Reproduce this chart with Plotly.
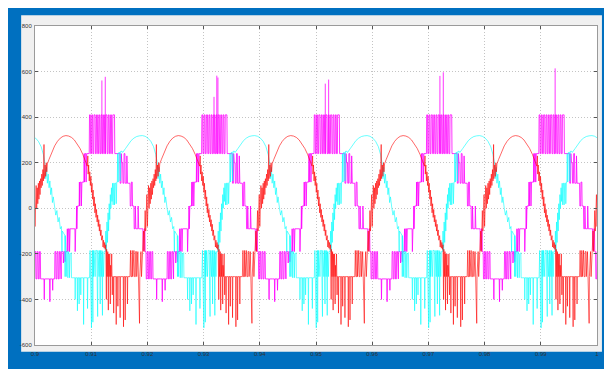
import plotly.graph_objects as go

# ---------------- data ----------------
# positive-peak time (s) of each phase in every 20 ms cycle
RED_PEAKS = [0.9055, 0.9255, 0.9455, 0.9655, 0.9855, 1.0055]
MAG_PEAKS = [0.8923, 0.9123, 0.9323, 0.9523, 0.9723, 0.9923]
CYAN_PEAKS = [0.8991, 0.9191, 0.9391, 0.9591, 0.9791, 0.9991]

# one cycle of each phase: (time from the phase peak in ms, value)
RED_CYCLE = [
    (-10.0, -300), (-9.8, -300), (-9.75, -520), (-9.7, -300), (-9.5, -300), (-9.45, -490), (-9.4, -300),
    (-9.1, -300), (-9.05, -420), (-9.0, -300), (-8.6, -300),
    (-8.5, -185), (-8.4, -300), (-8.25, -300), (-8.2, -185), (-8.1, -300), (-7.9, -185), (-7.8, -300),
    (-7.65, -300), (-7.6, -190), (-7.45, -190), (-7.4, -300), (-7.2, -190), (-7.05, -300), (-6.9, -505),
    (-6.85, -300), (-6.65, -190), (-6.55, -300), (-6.35, -190),
    (-6.2, -100), (-6.1, -190), (-6.0, -90), (-5.9, -10), (-5.8, -100), (-5.7, 0), (-5.6, 60), (-5.5, -80),
    (-5.4, 20), (-5.3, 100), (-5.2, 0), (-5.1, 90), (-5.0, 20), (-4.9, 110), (-4.8, 40), (-4.7, 120),
    (-4.6, 60), (-4.5, 130), (-4.4, 90), (-4.3, 150), (-4.2, 100), (-4.1, 170), (-4.0, 120), (-3.9, 280),
    (-3.85, 130), (-3.7, 190), (-3.6, 140), (-3.5, 200), (-3.4, 160), (-3.3, 195),
    (-3.0, 215), (-2.5, 248), (-2.0, 274), (-1.5, 294), (-1.0, 308), (-0.5, 316), (0.0, 319), (0.5, 317),
    (1.0, 311), (1.5, 300), (2.0, 284), (2.5, 263), (3.0, 237), (3.5, 205), (3.8, 185),
    (3.9, 230), (3.95, 150), (4.05, 190), (4.15, 120), (4.25, 160), (4.35, 100), (4.45, 140), (4.55, 70),
    (4.65, 110), (4.75, 40), (4.85, 80), (4.95, 10), (5.05, 50), (5.15, -20), (5.25, 20), (5.35, -40),
    (5.45, -5), (5.55, -60), (5.65, -30), (5.75, -80), (5.85, -50), (5.95, -100), (6.05, -70), (6.15, -120),
    (6.25, -95), (6.35, -140), (6.5, -120), (6.6, -170), (6.7, -140), (6.8, -175), (6.9, -150), (7.0, -180),
    (7.1, -160),
    (7.2, -400), (7.25, -180), (7.35, -300), (7.45, -190), (7.55, -447), (7.6, -200), (7.7, -300), (7.8, -200),
    (7.9, -420), (7.95, -250), (8.05, -300), (8.15, -200), (8.25, -380), (8.3, -300),
    (8.45, -300), (8.5, -460), (8.55, -300), (8.9, -300), (8.95, -510), (9.0, -300), (9.2, -300),
    (9.25, -430), (9.3, -300), (9.6, -300), (9.65, -480), (9.7, -300), (10.0, -300),
]

CYAN_CYCLE = [
    (-10.0, -305), (-9.8, -305), (-9.75, -440), (-9.7, -305), (-9.5, -305), (-9.4, -305),
    (-9.3, -185), (-9.2, -300), (-9.05, -525), (-9.0, -300), (-8.9, -185), (-8.8, -500), (-8.75, -185),
    (-8.7, -300), (-8.6, -185), (-8.4, -300), (-8.3, -185), (-8.1, -185), (-8.05, -300), (-7.95, -475),
    (-7.9, -185), (-7.7, -300), (-7.6, -185), (-7.5, -420), (-7.45, -185), (-7.3, -300), (-7.2, -185),
    (-7.1, -470), (-7.05, -190), (-6.9, -300), (-6.8, -190), (-6.6, -190),
    (-6.5, -100), (-6.4, -190), (-6.3, -60), (-6.2, -150), (-6.1, -20), (-6.0, -100), (-5.9, 20),
    (-5.8, -50), (-5.7, 60), (-5.6, 0), (-5.5, 90), (-5.4, 30), (-5.3, 110),
    (-5.2, 15), (-5.1, 110), (-5.0, 110), (-4.95, 15), (-4.85, 110), (-4.7, 110), (-4.65, 20),
    (-4.55, 115), (-4.45, 115),
    (-4.4, 240), (-4.3, 115), (-4.2, 245), (-4.0, 245), (-3.95, 120), (-3.85, 250), (-3.6, 250),
    (-3.5, 245), (-3.0, 262), (-2.5, 281), (-2.0, 297), (-1.5, 308), (-1.0, 315), (-0.5, 318), (0.0, 319),
    (0.5, 316), (1.0, 308), (1.5, 294), (2.0, 270), (2.4, 235), (2.65, 200),
    (2.8, 130), (2.95, 180), (3.1, 110), (3.25, 150), (3.4, 90), (3.55, 120), (3.7, 60),
    (3.85, 90), (4.0, 25), (4.15, 50), (4.4, 0),
    (4.6, -30), (4.8, -10), (5.0, -60), (5.2, -40), (5.4, -90), (5.6, -80), (5.7, -190), (5.75, -100),
    (6.0, -110), (6.2, -118),
    (6.25, -300), (6.3, -120), (6.4, -190), (6.45, -300), (6.55, -190), (6.7, -190), (6.75, -305),
    (6.85, -190), (7.0, -200), (7.05, -305), (7.15, -200), (7.35, -195), (7.4, -305), (7.6, -305),
    (8.0, -305), (8.05, -400), (8.1, -305), (8.4, -305), (8.45, -450), (8.5, -305), (8.7, -305),
    (8.75, -420), (8.8, -305), (9.0, -305), (9.05, -380), (9.1, -305), (9.5, -305), (9.55, -510),
    (9.6, -305), (10.0, -305),
]

MAG_CYCLE = [
    (-10.0, -310), (-9.7, -310), (-9.65, -410), (-9.6, -310), (-9.2, -310), (-9.15, -360), (-9.1, -310),
    (-8.8, -310),
    (-8.75, -190), (-8.6, -190), (-8.55, -310), (-8.4, -310), (-8.35, -190), (-8.2, -190), (-8.15, -310),
    (-8.0, -310), (-7.95, -190), (-7.8, -190), (-7.75, -310), (-7.65, -310), (-7.6, -190), (-7.5, -190),
    (-7.3, -190), (-7.25, -240), (-7.15, -190), (-7.0, -190), (-6.95, -235), (-6.85, -190), (-6.6, -190),
    (-6.55, -90), (-6.45, -190), (-6.35, -90), (-6.2, -90), (-6.15, -190), (-6.05, -90), (-5.2, -90),
    (-5.15, -190), (-5.05, -90), (-4.95, -90),
    (-4.9, 10), (-4.85, -90), (-4.75, 10), (-4.45, 10),
    (-4.4, 115), (-4.35, 10), (-4.25, 115), (-4.1, 115), (-4.05, 10), (-3.95, 115), (-3.6, 115),
    (-3.55, 240), (-3.5, 115), (-3.4, 240), (-3.25, 240), (-3.2, 115), (-3.1, 240), (-2.65, 240),
    (-2.6, 410), (-2.45, 410), (-2.4, 240), (-2.25, 240), (-2.2, 410), (-2.05, 410), (-2.0, 240),
    (-1.85, 240), (-1.8, 410), (-1.6, 410), (-1.55, 240), (-1.4, 240), (-1.35, 410), (-1.2, 410),
    (-1.15, 240), (-1.0, 240), (-0.95, 410), (-0.8, 410), (-0.75, 240), (-0.6, 240), (-0.55, 410),
    (-0.35, 410), (-0.3, 240), (-0.15, 240), (-0.1, 410), (0.05, 410), (0.1, 240), (0.25, 240),
    (0.3, 410), (0.5, 410), (0.55, 240), (0.7, 240), (0.75, 410), (0.9, 410), (0.95, 240), (1.1, 240),
    (1.15, 410), (1.3, 410), (1.35, 240), (1.5, 240), (1.55, 410), (1.85, 410), (1.9, 240),
    (2.8, 240),
    (2.85, 110), (3.0, 110), (3.05, 240), (3.15, 200), (3.3, 200), (3.35, 110), (3.5, 110), (3.55, 240),
    (3.7, 240), (3.75, 110), (4.0, 110), (4.05, 230), (4.15, 110), (4.6, 110),
    (4.65, 10), (4.8, 10), (4.85, 115), (5.0, 115), (5.05, 10), (5.3, 10),
    (5.35, -90), (5.5, -90), (5.55, 10), (5.65, -90), (6.0, -90), (6.05, 10), (6.15, -90), (6.9, -90),
    (6.95, -185), (7.1, -185), (7.15, -90), (7.25, -90), (7.3, -190),
    (7.45, -190), (7.5, -310), (7.65, -310), (7.7, -190), (7.85, -190), (7.9, -310), (8.05, -310),
    (8.1, -190), (8.25, -190), (8.3, -310), (8.45, -310), (8.5, -190), (8.65, -190), (8.7, -310),
    (9.3, -310), (9.35, -400), (9.4, -310), (10.0, -310),
]

# tall magenta spikes at the top of each cycle: (ms from peak, value), one list per MAG_PEAKS entry
MAG_SPIKES = [
    [],
    [(-0.4, 561), (0.2, 577)],
    [(-0.45, 489), (0.05, 582), (0.25, 574)],
    [(-0.65, 547), (-0.05, 565)],
    [(-0.25, 581), (0.35, 597)],
    [(0.25, 614)],
]
SPIKE_BASE = 240

X_TICKS = [0.9, 0.91, 0.92, 0.93, 0.94, 0.95, 0.96, 0.97, 0.98, 0.99, 1.0]
X_LABELS = ["0.9", "0.91", "0.92", "0.93", "0.94", "0.95", "0.96", "0.97", "0.98", "0.99", "1"]
Y_TICKS = [-600, -400, -200, 0, 200, 400, 600, 800]
Y_LABELS = ["-600", "-400", "-200", "0", "200", "400", "600", "800"]

RED, CYAN, MAGENTA = "#FF0000", "#00FFFF", "#FF00FF"


def build(peaks, cycle):
    xs, ys = [], []
    for tp in peaks:
        for tau, v in cycle:
            xs.append(tp + tau / 1000.0)
            ys.append(v)
    return xs, ys


rx, ry = build(RED_PEAKS, RED_CYCLE)
cx, cy = build(CYAN_PEAKS, CYAN_CYCLE)
mx, my = build(MAG_PEAKS, MAG_CYCLE)

sx, sy = [], []
for tp, spikes in zip(MAG_PEAKS, MAG_SPIKES):
    for tau, v in spikes:
        t = tp + tau / 1000.0
        sx += [t, t, None]
        sy += [SPIKE_BASE, v, None]

fig = go.Figure()
fig.add_trace(go.Scatter(x=mx, y=my, mode="lines", line=dict(color=MAGENTA, width=0.8)))
fig.add_trace(go.Scatter(x=sx, y=sy, mode="lines", line=dict(color=MAGENTA, width=0.8)))
fig.add_trace(go.Scatter(x=cx, y=cy, mode="lines", line=dict(color=CYAN, width=0.6)))
fig.add_trace(go.Scatter(x=rx, y=ry, mode="lines", line=dict(color=RED, width=0.6)))

# ---------------- layout ----------------
# the page adds an 8 px body margin, so the figure is 604 x 361 placed at (8, 8)
W, H = 604, 361
L, R, T, B = 21, 589, 18, 345  # plot area in figure pixels


def px(xp):
    return (xp - L) / (R - L)


def py(yp):
    return (B - yp) / (B - T)


shapes = [
    dict(type="rect", xref="paper", yref="paper", x0=px(7), x1=px(594), y0=py(352), y1=py(7),
         fillcolor="#F0F0F0", line=dict(width=0), layer="below"),
    dict(type="rect", xref="paper", yref="paper", x0=0, x1=1, y0=0, y1=1,
         fillcolor="#FFFFFF", line=dict(width=0), layer="below"),
]

axis_common = dict(
    showline=True, linecolor="#9A9A9A", linewidth=1, mirror="ticks",
    ticks="inside", ticklen=3, tickcolor="#555555", tickwidth=1,
    showgrid=True, gridcolor="#C4C4C4", griddash="1px,2px", gridwidth=1,
    zeroline=False, tickfont=dict(family="Liberation Sans, Arial", size=6, color="#333333"),
)

fig.update_layout(
    width=W, height=H,
    margin=dict(l=L, r=W - R, t=T, b=H - B, pad=0),
    paper_bgcolor="#0070C0", plot_bgcolor="#FFFFFF",
    showlegend=False, shapes=shapes,
    xaxis=dict(range=[0.9, 1.0], tickvals=X_TICKS, ticktext=X_LABELS, ticklabelstandoff=3, **axis_common),
    yaxis=dict(range=[-600, 800], tickvals=Y_TICKS, ticktext=Y_LABELS, ticklabelstandoff=1, **axis_common),
)

fig.write_html("out.html")
